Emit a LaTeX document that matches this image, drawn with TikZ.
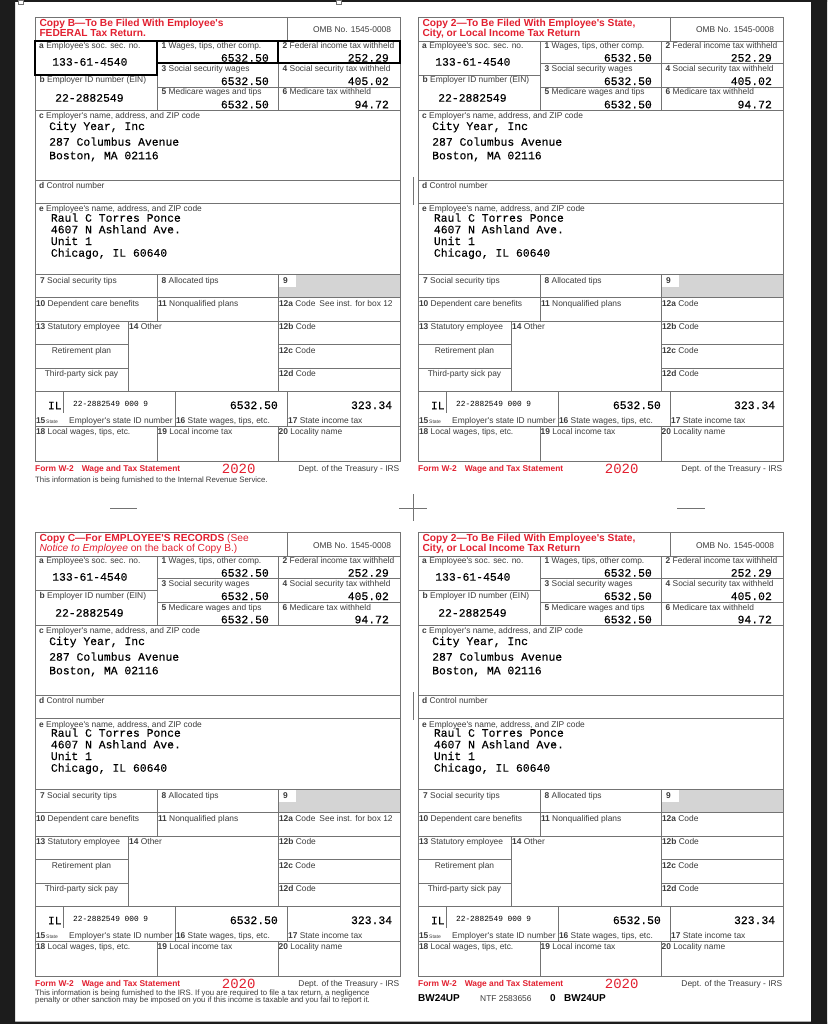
\documentclass[tikz,border=0pt]{standalone}
\usepackage{fontspec}
\newfontfamily\lblfont{Liberation Sans}
\newfontfamily\numfont[FakeBold=0.3]{Liberation Mono}
\newfontfamily\yearnum{Liberation Mono}

\definecolor{formred}{RGB}{226,32,48}
\definecolor{rulegray}{RGB}{115,115,115}
\definecolor{textgray}{RGB}{60,60,60}
\definecolor{boxshade}{RGB}{212,212,212}
\definecolor{pageedge}{RGB}{28,28,28}

\tikzset{
  rule/.style={draw=rulegray, line width=0.7pt},
  thickbox/.style={draw=black, line width=2pt},
  lbl/.style={anchor=base west, inner sep=0pt, text=textgray,
    font=\lblfont\fontsize{8.4}{9}\selectfont},
  clbl/.style={lbl, anchor=base},
  tinylbl/.style={lbl, font=\lblfont\fontsize{5}{5}\selectfont},
  amt/.style={anchor=base east, inner sep=0pt,
    font=\numfont\fontsize{11.4}{12}\selectfont},
  addr/.style={anchor=base west, inner sep=0pt,
    font=\numfont\fontsize{11.4}{12}\selectfont},
  stateid/.style={addr, font=\yearnum\fontsize{7.8}{8}\selectfont},
  ttl/.style={anchor=base west, inner sep=0pt, text=formred,
    font=\lblfont\bfseries\fontsize{10.2}{10}\selectfont},
  foot/.style={anchor=base west, inner sep=0pt, text=formred,
    font=\lblfont\bfseries\fontsize{8.4}{9}\selectfont},
  year/.style={anchor=base west, inner sep=0pt, text=formred,
    font=\yearnum\fontsize{14}{14}\selectfont},
  note/.style={anchor=base west, inner sep=0pt, text=textgray,
    font=\lblfont\fontsize{7.8}{8}\selectfont},
  code/.style={anchor=base west, inner sep=0pt,
    font=\lblfont\bfseries\fontsize{10}{10}\selectfont},
}

% one W-2 copy: #1 name, #2 #3 top left corner, #4 text after 12a Code
\newcommand{\wtwoform}[4]{%
\begin{scope}[shift={(#2,#3)}]
  \fill[boxshade] (243,257) rectangle (365,280);
  \fill[white] (243,257) rectangle (261,270);
  \draw[rule] (0,0) rectangle (365,444);
  \foreach \y in {24,93,163,186,257,280,304,374,409}
    \draw[rule] (0,\y) -- (365,\y);
  \draw[rule] (0,58) -- (122,58);
  \draw[rule] (122,46) -- (365,46) (122,70) -- (365,70);
  \draw[rule] (0,327) -- (93,327) (0,351) -- (93,351);
  \draw[rule] (243,327) -- (365,327) (243,351) -- (365,351);
  \draw[rule] (252,0) -- (252,24);
  \draw[rule] (122,24) -- (122,93) (243,24) -- (243,93);
  \draw[rule] (122,257) -- (122,304) (243,257) -- (243,374);
  \draw[rule] (93,304) -- (93,374);
  \draw[rule] (28,374) -- (28,396) (140,374) -- (140,409) (252,374) -- (252,409);
  \draw[rule] (122,409) -- (122,444) (243,409) -- (243,444);
  % box labels
  \node[lbl] (#1-omb) at (278,16) {OMB No. 1545-0008};
  \node[lbl] (#1-la) at (4,31.5) {\textbf{a} Employee's soc. sec. no.};
  \node[lbl] (#1-l1) at (126.5,31.5) {\textbf{1} Wages, tips, other comp.};
  \node[lbl] (#1-l2) at (247.5,31.5) {\textbf{2} Federal income tax withheld};
  \node[lbl] (#1-l3) at (126.5,54.5) {\textbf{3} Social security wages};
  \node[lbl] (#1-l4) at (247.5,54.5) {\textbf{4} Social security tax withheld};
  \node[lbl] (#1-lb) at (4.5,66) {\textbf{b} Employer ID number (EIN)};
  \node[lbl] (#1-l5) at (126.5,78) {\textbf{5} Medicare wages and tips};
  \node[lbl] (#1-l6) at (247.5,78) {\textbf{6} Medicare tax withheld};
  \node[lbl] (#1-lc) at (4,101.5) {\textbf{c} Employer's name, address, and ZIP code};
  \node[lbl] (#1-ld) at (4,171.5) {\textbf{d} Control number};
  \node[lbl] (#1-le) at (4,195) {\textbf{e} Employee's name, address, and ZIP code};
  \node[lbl] (#1-l7) at (5,266) {\textbf{7} Social security tips};
  \node[lbl] (#1-l8) at (126.5,266) {\textbf{8} Allocated tips};
  \node[lbl] (#1-l9) at (248,266) {\textbf{9}};
  \node[lbl] (#1-l10) at (0.8,289) {\textbf{10} Dependent care benefits};
  \node[lbl] (#1-l11) at (122.8,289) {\textbf{11} Nonqualified plans};
  \node[lbl] (#1-l12a) at (243.8,289) {\textbf{12a} Code#4};
  \node[lbl] (#1-l13) at (0.8,312.5) {\textbf{13} Statutory employee};
  \node[lbl] (#1-l14) at (94,312.5) {\textbf{14} Other};
  \node[lbl] (#1-l12b) at (243.8,312.5) {\textbf{12b} Code};
  \node[clbl] (#1-ret) at (46.5,336) {Retirement plan};
  \node[clbl] (#1-sick) at (46.5,359) {Third-party sick pay};
  \node[lbl] (#1-l12c) at (243.8,336) {\textbf{12c} Code};
  \node[lbl] (#1-l12d) at (243.8,359) {\textbf{12d} Code};
  \node[lbl] (#1-l15) at (0.8,406.5) {\textbf{15}};
  \node[tinylbl] (#1-st) at (11,406.5) {State};
  \node[lbl] (#1-l15b) at (34,406.5) {Employer's state ID number};
  \node[lbl] (#1-l16) at (140.8,406.5) {\textbf{16} State wages, tips, etc.};
  \node[lbl] (#1-l17) at (253,406.5) {\textbf{17} State income tax};
  \node[lbl] (#1-l18) at (0.8,417) {\textbf{18} Local wages, tips, etc.};
  \node[lbl] (#1-l19) at (122.5,417) {\textbf{19} Local income tax};
  \node[lbl] (#1-l20) at (243.5,417) {\textbf{20} Locality name};
  % filled in values
  \node[addr] (#1-ssn) at (17,48.7) {133-61-4540};
  \node[amt] (#1-v1) at (234,44.7) {6532.50};
  \node[amt] (#1-v2) at (354,44.7) {252.29};
  \node[amt] (#1-v3) at (234,68) {6532.50};
  \node[amt] (#1-v4) at (354,68) {405.02};
  \node[addr] (#1-ein) at (20,84.7) {22-2882549};
  \node[amt] (#1-v5) at (234,91.3) {6532.50};
  \node[amt] (#1-v6) at (354,91.3) {94.72};
  \node[addr] (#1-er1) at (14,113) {City Year, Inc};
  \node[addr] (#1-er2) at (14,128.7) {287 Columbus Avenue};
  \node[addr] (#1-er3) at (14,142.3) {Boston, MA 02116};
  \node[addr] (#1-ee1) at (15.7,204.7) {Raul C Torres Ponce};
  \node[addr] (#1-ee2) at (15.7,216.3) {4607 N Ashland Ave.};
  \node[addr] (#1-ee3) at (15.7,228) {Unit 1};
  \node[addr] (#1-ee4) at (15.7,239.7) {Chicago, IL 60640};
  \node[addr] (#1-st) at (12.7,392.3) {IL};
  \node[stateid] (#1-sid) at (38,389) {22-2882549 000 9};
  \node[amt] (#1-v16) at (243,392) {6532.50};
  \node[amt] (#1-v17) at (357.3,392) {323.34};
  % footer
  \node[foot] (#1-form) at (0,454.3) {Form W-2\hspace{8pt}Wage and Tax Statement};
  \node[year] (#1-year) at (186.7,456.3) {2020};
  \node[lbl, anchor=base east] (#1-dept) at (364.5,454.3) {Dept. of the Treasury - IRS};
\end{scope}}

\begin{document}
\begin{tikzpicture}[x=1pt, y=-1pt]
  \useasboundingbox (0,0) rectangle (827,1024);
  \fill[white] (0,0) rectangle (827,1024);
  % dark scan edges
  \fill[pageedge] (0,0) rectangle (15,1024) (811,0) rectangle (827,1024);
  \fill[pageedge] (0,0) rectangle (827,2) (0,1021.5) rectangle (827,1024);
  \draw[rule, fill=white, line width=0.5pt] (18,0) rectangle (23,4) (336,0) rectangle (341,4);

  \wtwoform{B}{35}{17}{\hspace{4pt}See inst. for box 12}
  \wtwoform{S}{418}{17}{}
  \wtwoform{C}{35}{532}{\hspace{4pt}See inst. for box 12}
  \wtwoform{L}{418}{532}{}

  % Copy B titles and heavy boxes
  \begin{scope}[shift={(35,17)}]
    \node[ttl] (B-t1) at (4.3,9.7) {Copy B—To Be Filed With Employee's};
    \node[ttl] (B-t2) at (4.3,19.7) {FEDERAL Tax Return.};
    \draw[thickbox] (0,24) rectangle (122,58) (122,24) rectangle (243,46)
      (243,24) rectangle (365,46);
    \node[note] (B-info) at (0,465) {This information is being furnished to the Internal Revenue Service.};
  \end{scope}
  \begin{scope}[shift={(418,17)}]
    \node[ttl] (S-t1) at (4.3,9.7) {Copy 2—To Be Filed With Employee's State,};
    \node[ttl] (S-t2) at (4.3,19.7) {City, or Local Income Tax Return};
  \end{scope}
  \begin{scope}[shift={(35,532)}]
    \node[ttl] (C-t1) at (4.3,9) {Copy C—For EMPLOYEE'S RECORDS \mdseries(See};
    \node[ttl] (C-t2) at (4.3,19) {\mdseries\itshape Notice to Employee\upshape\ on the back of Copy B.)};
    \node[note] (C-info1) at (0,463) {This information is being furnished to the IRS. If you are required to file a tax return, a negligence};
    \node[note] (C-info2) at (0,470.3) {penalty or other sanction may be imposed on you if this income is taxable and you fail to report it.};
  \end{scope}
  \begin{scope}[shift={(418,532)}]
    \node[ttl] (L-t1) at (4.3,9) {Copy 2—To Be Filed With Employee's State,};
    \node[ttl] (L-t2) at (4.3,19) {City, or Local Income Tax Return};
    \node[code] (L-bw) at (0,469.7) {BW24UP};
    \node[lbl, text=textgray] (L-ntf) at (62,469.7) {NTF 2583656};
    \node[code] (L-zero) at (132,469.7) {0};
    \node[code] (L-bw2) at (146,469.7) {BW24UP};
  \end{scope}

  % crop marks
  \draw[rule] (110,508) -- (137,508) (677,508) -- (705,508);
  \draw[rule] (399,508) -- (427,508) (413,494) -- (413,521);
  \draw[rule] (413,177) -- (413,205) (413,692) -- (413,720);
\end{tikzpicture}
\end{document}
